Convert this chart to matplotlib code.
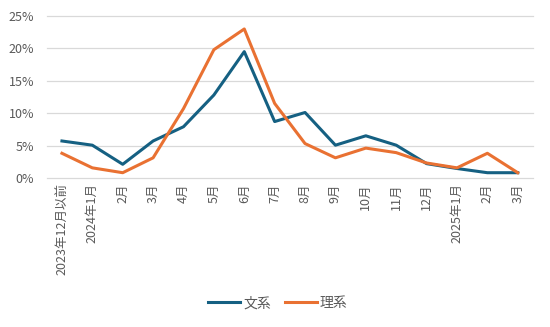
import matplotlib
matplotlib.use("Agg")
import matplotlib.pyplot as plt
from matplotlib.ticker import PercentFormatter

plt.rcParams['font.family'] = ['Noto Sans CJK JP', 'DejaVu Sans']

# ----------------------------
# Data
# ----------------------------

months = [
    "2023年12月以前", "2024年1月", "2月", "3月", "4月", "5月", "6月", "7月",
    "8月", "9月", "10月", "11月", "12月", "2025年1月", "2月", "3月"
]

bunkei = [5.7, 5.05, 2.1, 5.7, 7.9, 12.8, 19.5, 8.7,
          10.1, 5.05, 6.5, 5.05, 2.2, 1.45, 0.8, 0.8]

rikei = [3.8, 1.55, 0.8, 3.1, 10.7, 19.8, 23.0, 11.5,
         5.3, 3.1, 4.6, 3.9, 2.3, 1.55, 3.8, 0.8]

# ----------------------------
# Plot
# ----------------------------

fig = plt.figure(figsize=(5.5, 3.27), dpi=100)
ax = fig.add_axes([0.085, 0.456, 0.884, 0.495])

x = range(len(months))

ax.plot(x, bunkei, color="#156082", linewidth=2.2, label="文系")
ax.plot(x, rikei, color="#E97132", linewidth=2.2, label="理系")

ax.set_xlim(-0.5, len(months) - 0.5)
ax.set_ylim(0, 25)
ax.set_yticks([0, 5, 10, 15, 20, 25])
ax.yaxis.set_major_formatter(PercentFormatter(decimals=0))

ax.set_xticks(list(x))
ax.set_xticklabels(months, rotation=90)

# horizontal gridlines, including the 0% baseline
for val in [0, 5, 10, 15, 20, 25]:
    ax.axhline(val, color="#d9d9d9", linewidth=0.9, zorder=0, clip_on=False)

for side in ["top", "right", "left", "bottom"]:
    ax.spines[side].set_visible(False)

ax.tick_params(axis="both", length=0, colors="#595959", labelsize=9)
ax.tick_params(axis="x", pad=4)
ax.tick_params(axis="y", pad=9)

fig.legend(
    loc="center",
    bbox_to_anchor=(0.505, 0.073),
    ncol=2,
    frameon=False,
    fontsize=10,
    labelcolor="#595959",
    handlelength=2.3,
    columnspacing=1.0,
    handletextpad=0.2
)

plt.savefig("out.png", dpi=100)
